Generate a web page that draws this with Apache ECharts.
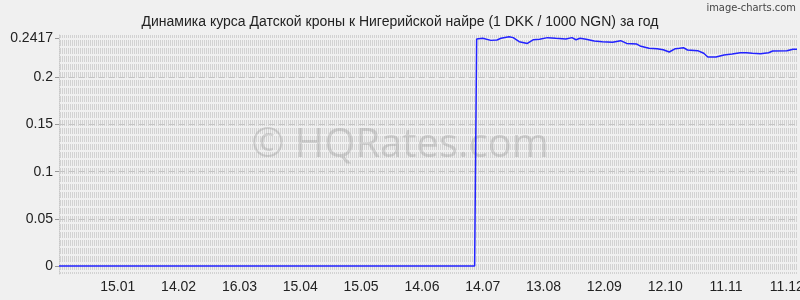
<!DOCTYPE html>
<html><head><meta charset="utf-8">
<script src="https://cdn.jsdelivr.net/npm/echarts@6/dist/echarts.min.js"></script>
<style>html,body{margin:0;padding:0;background:#f0f0f0}#c{width:800px;height:300px}</style>
</head><body><div id="c"></div>
<script>
// Observation dates and rates (DKK -> 1000 NGN)
const startDate = '2024-12-17';
const endDate = '2025-12-16';
const obsDates = ['2024-12-17','2025-07-10','2025-07-11','2025-07-14','2025-07-18','2025-07-21','2025-07-23','2025-07-27','2025-07-29',
  '2025-08-01','2025-08-05','2025-08-08','2025-08-11','2025-08-15','2025-08-19','2025-08-24','2025-08-27','2025-08-29','2025-08-31',
  '2025-09-03','2025-09-07','2025-09-11','2025-09-16','2025-09-20','2025-09-23','2025-09-28','2025-09-30',
  '2025-10-04','2025-10-08','2025-10-11','2025-10-14','2025-10-17','2025-10-19','2025-10-21','2025-10-23','2025-10-28','2025-10-31',
  '2025-11-02','2025-11-06','2025-11-10','2025-11-14','2025-11-18','2025-11-21','2025-11-24','2025-11-28',
  '2025-12-02','2025-12-04','2025-12-11','2025-12-14','2025-12-16'];
const rates = [0,0,0.2406,0.2414,0.2392,0.2396,0.2414,0.2431,0.2421,
  0.2378,0.2360,0.2399,0.2403,0.2421,0.2414,0.2406,0.2421,0.2399,0.2414,
  0.2403,0.2385,0.2378,0.2371,0.2389,0.2360,0.2353,0.2329,
  0.2308,0.2304,0.2293,0.2269,0.2304,0.2308,0.2315,0.2290,0.2283,0.2255,
  0.2216,0.2216,0.2237,0.2247,0.2261,0.2261,0.2255,0.2251,
  0.2261,0.2279,0.2283,0.2297,0.2297];
const xTickDates = ['2025-01-15','2025-02-14','2025-03-16','2025-04-15','2025-05-15','2025-06-14','2025-07-14','2025-08-13','2025-09-12','2025-10-12','2025-11-11','2025-12-11'];
const yTicks = [0,0.05,0.1,0.15,0.2,0.2417];
const yTickLabels = ['0','0.05','0.1','0.15','0.2','0.2417'];
const yGridLines = [0.05,0.1,0.15,0.2];

const DAY = 86400000;
const dayIdx = s => Math.round((Date.parse(s) - Date.parse(startDate)) / DAY);
const lastDay = dayIdx(endDate);
const xTicks = xTickDates.map(dayIdx);
const fmtDay = i => { const d = new Date(Date.parse(startDate) + i * DAY); return String(d.getUTCDate()).padStart(2,'0') + '.' + String(d.getUTCMonth()+1).padStart(2,'0'); };
const seriesData = obsDates.map((d, i) => [dayIdx(d), rates[i]]);

// background stripe pattern
const pc = document.createElement('canvas');
pc.width = 2; pc.height = 8;
const px = pc.getContext('2d');
px.fillStyle = '#d2d2d2';
px.fillRect(0, 0, 1, 6);

const chart = echarts.init(document.getElementById('c'), null, {renderer: 'canvas'});
const FONT = 'Liberation Sans, Arial, sans-serif';
chart.setOption({
  backgroundColor: '#f0f0f0',
  animation: false,
  title: {text: 'Динамика курса Датской кроны к Нигерийской найре (1 DKK / 1000 NGN) за год', left: 'center', top: 10,
    textStyle: {fontSize: 14, fontWeight: 'normal', color: '#222', fontFamily: FONT}},
  grid: {left: 59, right: 3, top: 35, bottom: 26, show: true, borderWidth: 0, containLabel: false, outerBoundsMode: 'none',
    backgroundColor: {image: pc, repeat: 'repeat'}},
  graphic: [
    {type: 'text', right: 4, top: 3, style: {text: 'image-charts.com', fontSize: 11, fill: '#444', fontFamily: 'DejaVu Sans Condensed, Liberation Sans Narrow, sans-serif'}},
    {type: 'text', left: 'center', top: 126, z: 0, style: {text: '© HQRates.com', fontSize: 40, fill: 'rgba(150,150,150,0.35)', fontFamily: 'Open Sans, DejaVu Sans, sans-serif'}}
  ],
  xAxis: {type: 'value', min: 0, max: lastDay,
    axisLine: {show: false}, axisTick: {show: false}, splitLine: {show: false},
    axisLabel: {customValues: xTicks, formatter: v => fmtDay(v), fontSize: 14, color: '#222', fontFamily: FONT, margin: 6}},
  yAxis: {type: 'value', min: -0.0085, max: 0.2449,
    axisLine: {show: true, lineStyle: {color: '#c8c8c8', type: 'dotted'}},
    axisTick: {show: true, customValues: yTicks, length: 4, lineStyle: {color: '#999'}},
    splitLine: {show: false},
    axisLabel: {customValues: yTicks, formatter: v => { const k = yTicks.findIndex(t => Math.abs(t - v) < 1e-6); return k >= 0 ? yTickLabels[k] : ''; },
      fontSize: 14, color: '#222', fontFamily: FONT, margin: 6}},
  series: [{type: 'line', data: seriesData, showSymbol: false, z: 5,
    lineStyle: {color: '#2222ff', width: 1.5},
    markLine: {silent: true, symbol: 'none', label: {show: false},
      lineStyle: {color: '#c4c4c4', type: [6, 4], width: 1},
      data: yGridLines.map(v => ({yAxis: v}))}
  }]
});
</script></body></html>
